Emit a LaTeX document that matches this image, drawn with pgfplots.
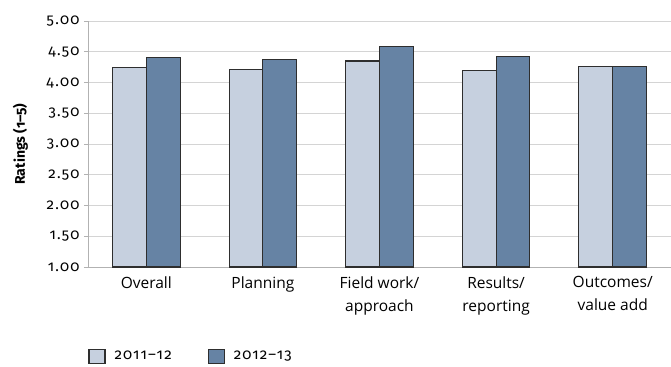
\documentclass[border=0pt]{standalone}
\usepackage{fontspec}
\setmainfont{Open Sans}
\newfontfamily\numfont[Numbers=OldStyle,LetterSpace=8]{Fira Sans}
\newfontfamily\ylabfont[Numbers=OldStyle]{Fira Sans}
\usepackage{pgfplots}
\pgfplotsset{compat=1.18}

\definecolor{barlight}{HTML}{C6D0DF}
\definecolor{bardark}{HTML}{6683A4}
\definecolor{gridgray}{HTML}{D4D4D4}
\definecolor{edgegray}{HTML}{2E2E2E}

% ratings per review stage
\pgfplotstableread{
x  r1112  r1213
0  4.24   4.41
1  4.21   4.37
2  4.35   4.59
3  4.19   4.43
4  4.26   4.26
}\ratings

\begin{document}
\begin{tikzpicture}
\begin{axis}[
  at={(0,0)}, anchor=south west,
  scale only axis, width=583bp, height=246bp,
  xmin=-0.5, xmax=4.5,
  ymin=1, ymax=5,
  ytick={1,1.5,2,2.5,3,3.5,4,4.5,5},
  yticklabel style={font=\numfont\fontsize{15bp}{17bp}\selectfont, xshift=-1bp, /pgf/number format/.cd, fixed, fixed zerofill, precision=2, assume math mode=true},
  xtick={0,1,2,3,4},
  xticklabels={Overall, Planning, {Field work/\\approach}, {Results/\\reporting}, {Outcomes/\\value add}},
  xticklabel style={align=center, font=\fontsize{15.5bp}{23bp}\selectfont, yshift=-2bp},
  major x tick style={draw=none},
  extra x ticks={-0.5,0.5,1.5,2.5,3.5,4.5},
  extra x tick labels={},
  extra x tick style={grid=none, major tick length=4bp, tick style={draw=gray!60, line width=0.8bp}},
  tick align=outside,
  major y tick style={draw=gray!60, line width=0.8bp},
  major tick length=4bp,
  axis x line*=bottom, axis y line*=left,
  axis line style={draw=gray!60, line width=0.8bp, -},
  ymajorgrids, grid style={draw=gridgray, line width=1bp},
  ylabel={\ylabfont\bfseries Ratings (1–5)},
  ylabel style={at={(axis description cs:-0.116,0.5)}, anchor=center, font=\fontsize{14bp}{16bp}\selectfont},
  ybar=0pt, bar width=0.29,
  legend columns=2,
  legend style={at={(axis description cs:0,0)}, anchor=west, yshift=-89.3bp, xshift=0.3bp,
    draw=none, fill=none, inner xsep=0pt, inner ysep=0pt,
    font=\numfont\fontsize{15bp}{17bp}\selectfont,
    nodes={inner sep=0pt, anchor=west},
    /tikz/every odd column/.append style={column sep=9bp},
    /tikz/every even column/.append style={column sep=36bp}},
  legend image code/.code={\draw[#1] (0bp,-7bp) rectangle (16bp,7bp);},
]
\addplot[fill=barlight, draw=edgegray, line width=1.1bp] table[x=x, y=r1112] {\ratings};
\addplot[fill=bardark, draw=edgegray, line width=1.1bp] table[x=x, y=r1213] {\ratings};
\legend{2011–12, 2012–13}
\end{axis}
\pgfresetboundingbox
\path (-88bp,-100bp) rectangle (583bp,267bp);
\end{tikzpicture}
\end{document}
